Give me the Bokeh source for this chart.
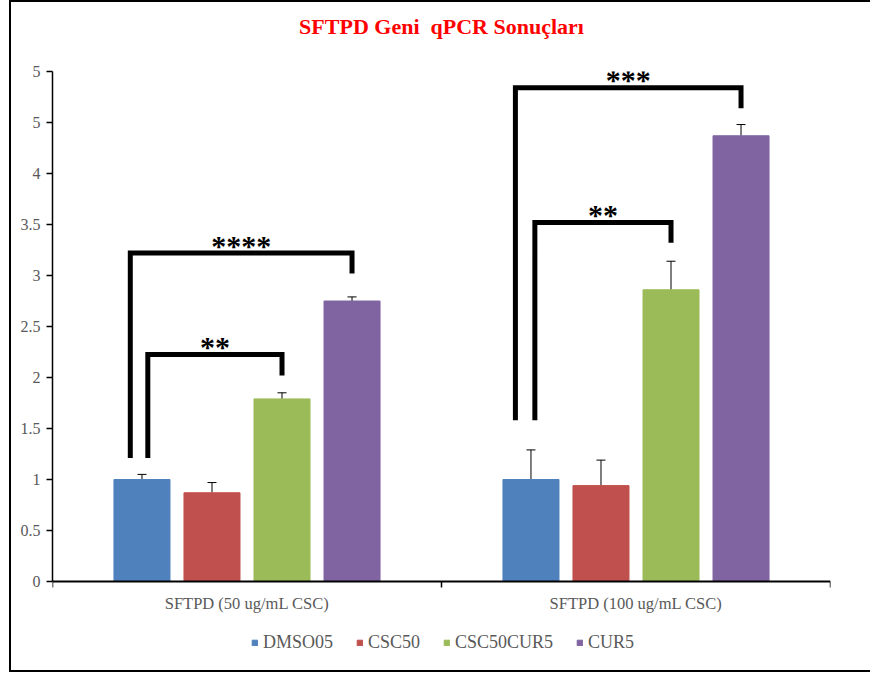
from bokeh.plotting import figure
from bokeh.models import (Range1d, FixedTicker, ColumnDataSource, Whisker, TeeHead,
                          Legend, LegendItem, InlineStyleSheet, Title)
from bokeh.core.properties import value
from bokeh.embed import file_html
from bokeh.resources import INLINE

# ---- data -------------------------------------------------------------
groups = ["SFTPD (50 ug/mL CSC)", "SFTPD (100 ug/mL CSC)"]
series = ["DMSO05", "CSC50", "CSC50CUR5", "CUR5"]
colors = ["#4F81BD", "#C0504D", "#9BBB59", "#8064A2"]

dmso05 = [1.00, 1.00]
csc50 = [0.87, 0.94]
csc50cur5 = [1.79, 2.86]
cur5 = [2.75, 4.37]

dmso05_err = [0.05, 0.29]
csc50_err = [0.10, 0.25]
csc50cur5_err = [0.06, 0.28]
cur5_err = [0.04, 0.11]

y_ticks = [0, 0.5, 1, 1.5, 2, 2.5, 3, 3.5, 4, 4.5, 5]
y_tick_labels = ["0", "0.5", "1", "1.5", "2", "2.5", "3", "3.5", "4", "5", "5"]

# significance brackets: group, first bar, last bar, bar level, leg ends, stars
bracket_group = [0, 0, 1, 1]
bracket_from = [0, 0, 0, 0]
bracket_to = [2, 3, 2, 3]
bracket_top = [2.225, 3.22, 3.52, 4.84]
bracket_left_end = [1.21, 1.21, 1.58, 1.58]
bracket_right_end = [2.02, 3.02, 3.32, 4.64]
bracket_left_shift = [0.015, -0.03, 0.01, -0.04]
bracket_stars = ["**", "****", "**", "***"]

means = [dmso05, csc50, csc50cur5, cur5]
errs = [dmso05_err, csc50_err, csc50cur5_err, cur5_err]

# ---- layout constants ---------------------------------------------------
SERIF = "Liberation Serif"
GREY = "#595959"
offsets = [-0.27, -0.09, 0.09, 0.27]
bar_w = 0.144
centers = [0.5, 1.5]
Y_MAX = 5
VALUE_PX = 510           # pixel height of the 0..5 value span
FRAME_H = 590            # plotting area also holds the legend under the axis
y_min = -(FRAME_H - VALUE_PX) / VALUE_PX * Y_MAX

p = figure(frame_width=778, frame_height=FRAME_H, output_backend="svg",
           toolbar_location=None, title=None,
           x_range=Range1d(0, 2), y_range=Range1d(y_min, Y_MAX),
           min_border_left=52, min_border_right=40,
           min_border_top=71, min_border_bottom=13,
           background_fill_color="white", border_fill_color="white")
p.outline_line_color = None
p.grid.visible = False

# chart-area border drawn around the canvas
p.stylesheets = [InlineStyleSheet(css="""
:host::after {
  content: "";
  position: absolute;
  left: 9px; top: 0px;
  width: 861px; height: 668px;
  border-left: 2px solid #000;
  border-top: 2px solid #000;
  border-bottom: 2px solid #000;
  pointer-events: none;
}
""")]

# gap between the chart title and the plotting area
p.add_layout(Title(text=" ", text_font_size="1px", standoff=30), "above")
p.add_layout(Title(text="SFTPD Geni\u00a0 qPCR Sonuçları", align="center",
                   text_font=SERIF, text_font_style="bold",
                   text_font_size="22px", text_color="#FF0000", standoff=0),
             "above")

# bars and error bars
legend_items = []
for i, name in enumerate(series):
    xs = [c + offsets[i] for c in centers]
    src = ColumnDataSource(dict(
        x=xs, top=means[i],
        upper=[m + e for m, e in zip(means[i], errs[i])],
    ))
    r = p.vbar(x="x", top="top", width=bar_w, bottom=0, source=src,
               fill_color=colors[i], line_color=colors[i])
    legend_items.append(LegendItem(label=name, renderers=[r]))
    w = Whisker(source=src, base="x", lower="top", upper="upper",
                line_color="black", line_width=1,
                upper_head=TeeHead(size=9, line_color="black", line_width=1),
                lower_head=None)
    p.add_layout(w)

# significance brackets
bx, by, sx, sy = [], [], [], []
for g, a, b, top, le, re, sh in zip(bracket_group, bracket_from, bracket_to,
                                    bracket_top, bracket_left_end,
                                    bracket_right_end, bracket_left_shift):
    x0 = centers[g] + offsets[a] + sh
    x1 = centers[g] + offsets[b]
    bx.append([x0, x0, x1, x1])
    by.append([le, top, top, re])
    sx.append((x0 + x1) / 2)
    sy.append(top)
p.multi_line(bx, by, line_color="black", line_width=5,
             line_join="miter", line_cap="butt")
p.text(x=sx, y=sy, text=bracket_stars, text_font=value(SERIF),
       text_font_style="bold", text_font_size="30px", text_color="black",
       text_align="center", text_baseline="alphabetic", y_offset=-8)

# category names under the value axis
p.text(x=centers, y=[0] * len(centers), text=groups, text_font=value(SERIF),
       text_font_size="16.5px", text_color=GREY, text_align="center",
       text_baseline="middle", y_offset=22)

# y axis
p.yaxis.ticker = FixedTicker(ticks=y_ticks)
p.yaxis.bounds = (0, Y_MAX)
p.yaxis.major_label_overrides = {t: l for t, l in zip(y_ticks, y_tick_labels)}
p.yaxis.major_tick_in = 0
p.yaxis.major_tick_out = 6
p.yaxis.minor_tick_out = 0
p.yaxis.minor_tick_in = 0
p.yaxis.axis_line_width = 1.5
p.yaxis.axis_line_color = "black"
p.yaxis.major_tick_line_color = "black"
p.yaxis.major_tick_line_width = 1.5
p.yaxis.major_label_text_font = SERIF
p.yaxis.major_label_text_font_size = "16px"
p.yaxis.major_label_text_color = GREY
p.yaxis.major_label_standoff = 6

# x axis sits on the zero line, with tick marks at the group boundaries
p.xaxis.fixed_location = 0
p.xaxis.ticker = FixedTicker(ticks=[], minor_ticks=[0, 1, 2])
p.xaxis.major_tick_in = 0
p.xaxis.major_tick_out = 0
p.xaxis.minor_tick_in = 0
p.xaxis.minor_tick_out = 6
p.xaxis.minor_tick_line_color = "black"
p.xaxis.minor_tick_line_width = 1.5
p.xaxis.axis_line_width = 2
p.xaxis.axis_line_color = "black"
p.xaxis.major_label_standoff = 0

legend = Legend(items=legend_items, location=(199, 8), orientation="horizontal",
                glyph_width=7, glyph_height=7, label_standoff=5, spacing=23,
                padding=0, margin=0, border_line_alpha=0,
                background_fill_alpha=0, label_text_font=SERIF,
                label_text_font_size="18px", label_text_color=GREY)
p.add_layout(legend, "center")

open("out.html", "w").write(file_html(p, INLINE))
